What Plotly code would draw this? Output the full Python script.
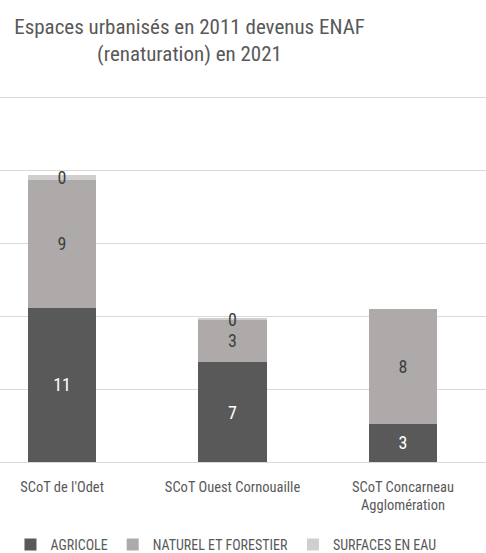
import plotly.graph_objects as go

categories = ["SCoT de l'Odet", "SCoT Ouest Cornouaille", "SCoT Concarneau<br>Agglomération"]
agricole = [10.57, 6.85, 2.63]
naturel = [8.79, 2.9, 7.88]
eau = [0.29, 0.06, None]

FONT = "Roboto Condensed, Liberation Sans Narrow, Lato, sans-serif"
x = list(range(len(categories)))

fig = go.Figure()
series = [
    ("AGRICOLE", agricole, "#595959", "white"),
    ("NATUREL ET FORESTIER", naturel, "#aeaaaa", "#404040"),
    ("SURFACES EN EAU", eau, "#d0cece", "#404040"),
]
for name, vals, col, tcol in series:
    fig.add_trace(go.Bar(
        x=x, y=vals, name=name, marker=dict(color=col, line=dict(width=0)),
        width=0.4, texttemplate="%{y:.0f}", textposition="inside",
        insidetextanchor="middle", textangle=0,
        textfont=dict(family=FONT, size=18, color=tcol),
        cliponaxis=False,
    ))

fig.update_layout(
    barmode="stack",
    width=486, height=553,
    margin=dict(l=0, r=0, t=90, b=91, autoexpand=False),
    paper_bgcolor="white", plot_bgcolor="white",
    uniformtext=dict(minsize=18, mode="show"),
    title=dict(text="Espaces urbanisés en 2011 devenus ENAF<br>(renaturation) en 2021",
               x=0.39, xanchor="center", xref="container",
               y=1 - 34 / 553, yanchor="middle", yref="container",
               font=dict(family=FONT, size=21, color="#595959")),
    xaxis=dict(tickvals=x, ticktext=categories, range=[-0.364, 2.487],
               showgrid=False, zeroline=False, showline=False, ticks="",
               ticklabelstandoff=14,
               tickfont=dict(family=FONT, size=14.5, color="#595959")),
    yaxis=dict(range=[0, 25.5], tickvals=[0, 5, 10, 15, 20, 25], showticklabels=False,
               showgrid=True, gridcolor="#d9d9d9", gridwidth=1, zeroline=True,
               zerolinecolor="#d9d9d9", zerolinewidth=1),
    legend=dict(orientation="h", x=0.465, xanchor="center", xref="container",
                y=1 - 545 / 553, yanchor="middle", yref="container",
                font=dict(family=FONT, size=14, color="#595959"), traceorder="normal"),
    showlegend=True,
)

fig.write_html("out.html", config={"displayModeBar": False},
               post_script="document.body.style.margin='0';document.body.style.overflow='hidden';")
